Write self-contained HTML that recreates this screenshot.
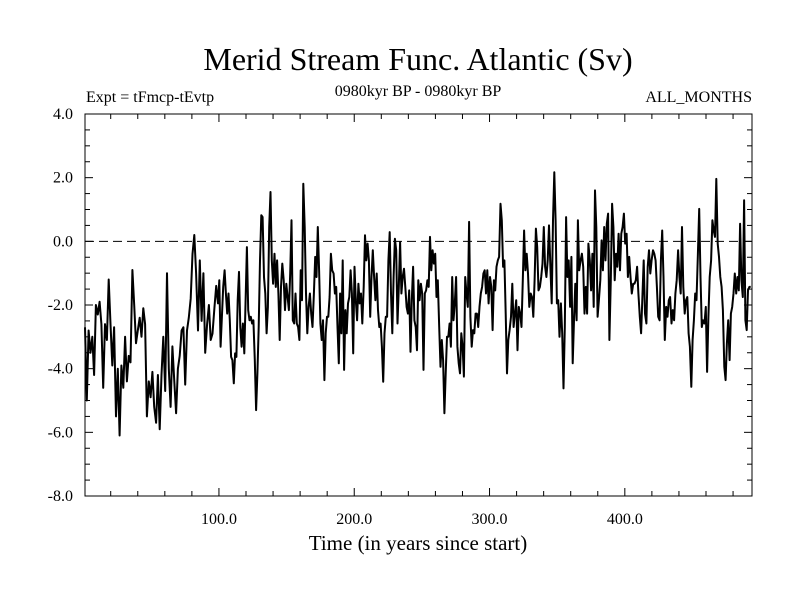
<!DOCTYPE html>
<html><head><meta charset="utf-8"><style>
html,body{margin:0;padding:0;background:#fff;}
svg{display:block;font-family:"Liberation Serif",serif;}
</style></head><body>
<svg id="chart" width="800" height="600" viewBox="0 0 800 600" xmlns="http://www.w3.org/2000/svg">
<text x="418" y="70" font-size="32" text-anchor="middle">Merid Stream Func. Atlantic (Sv)</text>
<text x="86" y="102" font-size="16">Expt = tFmcp-tEvtp</text>
<text x="418" y="96" font-size="16" text-anchor="middle">0980kyr BP - 0980kyr BP</text>
<text x="752" y="102" font-size="16" text-anchor="end">ALL_MONTHS</text>
<text x="418" y="550" font-size="21" text-anchor="middle">Time (in years since start)</text>
<g id="axes"></g>
<g id="series"></g>
</svg>
<script>
const segmentBounds = [1, 99.3, 198.3, 297.4, 396.4, 494];
const seg1Values = [-2.7,-5.0,-2.8,-3.5,-3.0,-4.2,-2.0,-2.3,-1.9,-2.6,-4.6,-2.6,-3.1,-1.2,-2.6,-3.9,-2.7,-5.5,-4.0,-6.1,-3.9,-4.6,-3.0,-4.4,-3.6,-3.8,-0.9,-2.0,-3.2,-2.8,-2.4,-3.0,-2.1,-2.6,-5.5,-4.4,-4.9,-4.1,-5.2,-5.7,-4.2,-5.9,-4.2,-3.0,-4.7,-1.0,-4.0,-5.2,-3.3,-4.4,-5.4,-4.0,-3.6,-2.8,-2.7,-4.5,-2.8,-2.4,-1.8,-0.4,0.2,-1.0,-2.8,-0.6,-2.5,-1.0,-3.5,-2.6,-2.0,-3.1,-2.9,-2.1,-1.4];
const seg2Values = [-1.95,-1.22,-3.31,-2.37,-1.43,-0.91,-1.64,-2.27,-1.64,-2.48,-3.63,-3.73,-4.46,-3.52,-3.63,-1.85,-0.96,-2.69,-3.31,-2.58,-3.52,-1.85,-0.18,-2.16,-2.48,-2.37,-2.58,-2.48,-3.73,-5.3,-4.15,-2.69,-0.6,0.82,0.76,-1.12,-1.64,-2.89,-2.06,0.45,1.55,-0.6,-1.33,-0.39,-1.43,-0.6,-1.64,-3.1,-1.43,-0.7,-1.22,-2.16,-1.33,-1.75,-2.16,-1.01,0.66,-2.48,-2.58,-1.64,-2.58,-2.69,-3.1,-0.91,-1.85,1.81,0.45,-1.64,-2.89,-2.06,-1.64,-2.27,-2.69,-1.64,-0.49,-1.12,0.45,-0.91,-2.58,-3.1,-2.48,-4.36,-2.89,-2.37,-2.37,-1.75,-0.39,-0.91,-1.01,-1.64,-1.43,-2.69,-3.83,-1.64,-2.89,-0.6,-4.04,-2.16,-2.89,-1.95,-1.75,-0.91];
const seg3Values = [-1.64,-3.52,-0.8,-1.85,-2.48,-1.33,-1.95,-1.64,-2.58,-1.43,0.19,-0.6,-0.07,-0.6,-2.37,-1.12,-0.28,-1.12,-1.85,-1.01,-2.16,-2.69,-2.58,-3.31,-4.41,-2.89,-2.37,-2.37,-0.6,0.29,-1.64,-2.89,-1.12,0.08,-0.28,-2.58,-1.43,-0.02,-1.64,-1.12,-0.86,-1.43,-2.06,-2.27,-1.54,-3.47,-1.85,-0.8,-2.48,-2.69,-3.42,-1.22,-1.85,-1.33,-1.64,-4.04,-1.64,-1.54,-1.22,-1.43,0.14,-0.91,-0.28,-0.7,-0.39,-1.75,-1.22,-2.69,-3.94,-3.1,-3.73,-5.4,-4.15,-3.0,-3.0,-2.58,-3.31,-1.12,-2.48,-1.95,-1.12,-3.31,-3.83,-4.15,-2.89,-3.31,-4.25,-1.12,-1.64,-2.06,0.61,-2.37,-3.31,-2.79,-2.89,-2.27,-2.27,-2.69,-2.06,-1.64,-1.43,-1.01,-0.91];
const seg4Values = [-1.64,-0.91,-1.95,-1.12,-1.43,-2.79,-1.22,-1.54,-0.8,-0.6,-0.49,1.18,0.66,-0.8,-0.6,-2.27,-4.15,-3.1,-2.79,-2.37,-1.33,-2.69,-2.27,-1.85,-3.42,-2.06,-2.27,-2.69,-1.22,0.34,-0.91,-0.39,-1.01,-2.06,-1.64,-1.75,-2.37,-1.22,0.4,-0.18,-1.54,-1.43,-1.12,-0.7,0.45,-0.8,-1.12,-0.6,0.5,-0.8,-1.95,0.66,2.17,0.66,-1.95,-1.85,-3.0,-1.95,-2.89,-4.62,-2.69,0.76,-1.12,-0.6,-2.06,-0.49,-3.83,-2.48,-1.33,-2.48,0.66,-0.91,-0.6,-0.39,-0.8,-2.27,-1.43,-2.27,-0.07,-0.6,-1.54,-0.39,-2.06,1.6,0.45,-2.37,-1.85,-1.22,0.03,-0.91,0.45,-0.6,0.55,0.87,-3.1,-1.22,1.18,0.45,-1.22,-0.39,-0.8,0.24];
const seg5Values = [-0.91,0.24,0.45,0.87,-0.07,0.24,-1.12,-0.49,-1.12,-1.64,-1.33,-1.33,-1.22,-0.8,-1.64,-2.37,-2.89,-1.75,-0.6,-2.27,-2.58,-0.8,-0.28,-1.01,-0.6,-0.28,-0.39,-0.6,-1.43,-2.37,-2.48,-0.6,0.34,-1.12,-3.1,-2.06,-2.37,-1.85,-1.75,-2.58,-2.16,-2.48,-1.64,-1.22,-0.28,-1.12,-1.64,0.45,-1.43,-2.27,-1.85,-1.75,-2.89,-3.31,-4.57,-3.1,-2.48,-1.64,-1.85,-0.39,1.02,-1.12,-2.69,-2.48,-2.58,-2.06,-4.1,-2.37,-1.12,-0.6,0.66,0.34,0.14,1.96,-0.07,-0.49,-1.12,-1.43,-2.16,-3.94,-4.36,-3.2,-2.48,-3.73,-2.27,-2.06,-1.64,-1.01,-1.64,-1.12,-1.54,0.55,-1.22,-1.75,1.29,-2.48,-2.79,-1.54,-1.43,-1.43];
const xTickValues = [100, 200, 300, 400];
const xTickLabels = ["100.0", "200.0", "300.0", "400.0"];
const yTickValues = [4, 2, 0, -2, -4, -6, -8];
const yTickLabels = ["4.0", "2.0", "0.0", "-2.0", "-4.0", "-6.0", "-8.0"];

const L = 85, R = 752, T = 114, B = 496;
const xMin = 1, xMax = 494, yMin = -8, yMax = 4;
const NS = 'http://www.w3.org/2000/svg';
function xs(v){ return L + (v - xMin) / (xMax - xMin) * (R - L); }
function ys(v){ return B - (v - yMin) / (yMax - yMin) * (B - T); }
function mk(tag, attrs, parent){ const e = document.createElementNS(NS, tag); for (const k in attrs) e.setAttribute(k, attrs[k]); parent.appendChild(e); return e; }

const axes = document.getElementById('axes');
const frame = mk('rect', {x:L, y:T, width:R-L, height:B-T, fill:'none', stroke:'#000', 'stroke-width':1}, axes);


const zero = mk('line', {x1:L, x2:R, y1:ys(0), y2:ys(0), stroke:'#000', 'stroke-width':1, 'stroke-dasharray':'9,5'}, axes);



for (let v = 20; v < xMax; v += 20) {
  const major = v % 100 === 0, len = major ? 8 : 5, x = xs(v);
  const t1 = mk('line', {x1:x, x2:x, y1:B, y2:B-len, stroke:'#000'}, axes);
  
  
  const t2 = mk('line', {x1:x, x2:x, y1:T, y2:T+len, stroke:'#000'}, axes);
  
  
}
xTickValues.forEach((v, i) => {
  const t = mk('text', {x:xs(v), y:B+28, 'font-size':16, 'text-anchor':'middle'}, axes);
  t.textContent = xTickLabels[i];
  
  
});
for (let v = yMin + 0.5; v < yMax; v += 0.5) {
  const major = Math.abs(v % 2) < 1e-9, len = major ? 8 : 5, y = ys(v);
  const t1 = mk('line', {x1:L, x2:L+len, y1:y, y2:y, stroke:'#000'}, axes);
  
  
  const t2 = mk('line', {x1:R, x2:R-len, y1:y, y2:y, stroke:'#000'}, axes);
  
  
}
yTickValues.forEach((v, i) => {
  const t = mk('text', {x:L-12, y:ys(v)+5, 'font-size':16, 'text-anchor':'end'}, axes);
  t.textContent = yTickLabels[i];
  
  
});

const segs = [seg1Values, seg2Values, seg3Values, seg4Values, seg5Values];
const pts = [];
segs.forEach((vals, s) => {
  const a = segmentBounds[s], b = segmentBounds[s+1], n = vals.length;
  vals.forEach((v, i) => {
    const yr = a + (b - a) * i / n;
    pts.push(xs(yr).toFixed(1) + ',' + ys(v).toFixed(1));
  });
});
const line = mk('polyline', {points: pts.join(' '), fill:'none', stroke:'#000', 'stroke-width':2, 'stroke-linejoin':'round'}, document.getElementById('series'));


</script>
</body></html>
